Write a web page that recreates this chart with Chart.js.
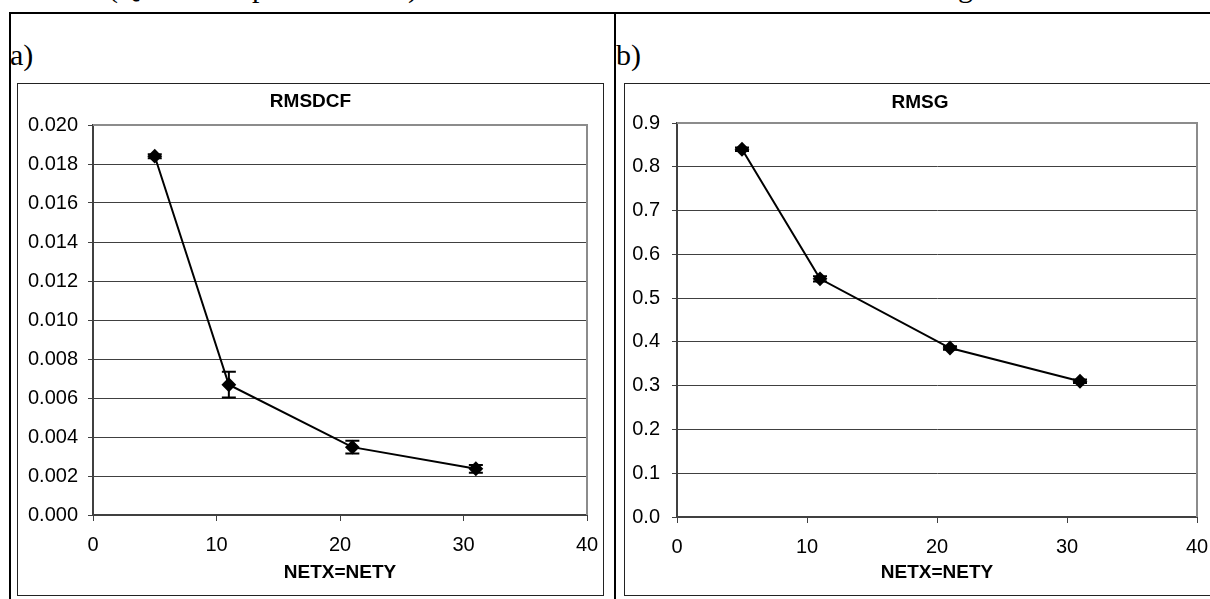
<!DOCTYPE html>
<html><head><meta charset="utf-8">
<script src="https://cdn.jsdelivr.net/npm/chart.js@4.4.0/dist/chart.umd.min.js"></script>
<style>
html,body{margin:0;padding:0;background:#fff;width:1210px;height:599px;overflow:hidden;position:relative;}
.line{position:absolute;background:#000;}
.frame{position:absolute;border:1px solid #222;box-sizing:border-box;z-index:2;pointer-events:none;}
.lbl{position:absolute;font-family:"Liberation Serif",serif;font-size:30px;line-height:30px;color:#000;}
.cut{position:absolute;left:0;top:0;width:1210px;height:12px;overflow:hidden;}
.cut span{position:absolute;top:-28px;font-family:"Liberation Serif",serif;font-size:30px;line-height:30px;color:#000;}
canvas{position:absolute;}
</style></head>
<body>
<div class="cut"><span style="left:108px">(Q</span><span style="left:252px">p</span><span style="left:408px">)</span><span style="left:958px">g</span></div>
<div class="line" style="left:9px;top:12px;width:1201px;height:2px"></div>
<div class="line" style="left:9px;top:12px;width:2px;height:600px"></div>
<div class="line" style="left:614px;top:12px;width:2px;height:600px"></div>
<div class="lbl" style="left:10px;top:40px">a)</div>
<div class="lbl" style="left:616px;top:40px">b)</div>
<div class="frame" style="left:17px;top:83px;width:587px;height:513px"></div>
<div class="frame" style="left:624px;top:83px;width:600px;height:513px"></div>
<canvas id="chartA" width="585" height="511" style="left:18px;top:84px"></canvas>
<canvas id="chartB" width="590" height="511" style="left:625px;top:84px"></canvas>
<script>
// ---- data ----
const xValues = [5, 11, 21, 31];
const rmsdcfValues = [0.0184, 0.00668, 0.00348, 0.00237];
const rmsdcfErrors = [0.0001, 0.00066, 0.00033, 0.0002];
const rmsgValues = [0.840, 0.544, 0.386, 0.310];
const rmsgErrors = [0.004, 0.006, 0.004, 0.004];
const xTicks = [0, 10, 20, 30, 40];
const yTickValuesA = [0, 0.002, 0.004, 0.006, 0.008, 0.010, 0.012, 0.014, 0.016, 0.018, 0.020];
const yTickLabelsA = ['0.000','0.002','0.004','0.006','0.008','0.010','0.012','0.014','0.016','0.018','0.020'];
const yTickValuesB = [0, 0.1, 0.2, 0.3, 0.4, 0.5, 0.6, 0.7, 0.8, 0.9];
const yTickLabelsB = ['0.0','0.1','0.2','0.3','0.4','0.5','0.6','0.7','0.8','0.9'];
const titleA = 'RMSDCF';
const titleB = 'RMSG';
const xAxisTitle = 'NETX=NETY';

const FONT = '"Liberation Sans", Arial, sans-serif';

const plotFrame = {
  id: 'plotFrame',
  beforeDatasetsDraw(chart) {
    const {ctx, chartArea: a} = chart;
    ctx.save();
    ctx.strokeStyle = '#8c8c8c';
    ctx.lineWidth = 2;
    ctx.beginPath();
    ctx.moveTo(a.left, a.top);
    ctx.lineTo(a.right, a.top);
    ctx.lineTo(a.right, a.bottom);
    ctx.stroke();
    ctx.restore();
  }
};

const errorBars = {
  id: 'errorBars',
  afterDatasetsDraw(chart) {
    const {ctx} = chart;
    const xs = chart.scales.x, ys = chart.scales.y;
    chart.data.datasets.forEach(ds => {
      if (!ds.errors) return;
      ctx.save();
      ctx.strokeStyle = '#000';
      ctx.lineWidth = 2;
      ds.data.forEach((p, i) => {
        const e = ds.errors[i];
        const px = xs.getPixelForValue(p.x);
        const top = ys.getPixelForValue(p.y + e);
        const bot = ys.getPixelForValue(p.y - e);
        ctx.beginPath();
        ctx.moveTo(px, top); ctx.lineTo(px, bot);
        ctx.moveTo(px - 7, top); ctx.lineTo(px + 7, top);
        ctx.moveTo(px - 7, bot); ctx.lineTo(px + 7, bot);
        ctx.stroke();
      });
      ctx.restore();
    });
  }
};

function makeChart(id, values, errors, yVals, yLabels, title, geo) {
  const data = xValues.map((x, i) => ({x: x, y: values[i]}));
  return new Chart(document.getElementById(id), {
    type: 'line',
    data: {
      datasets: [{
        data: data,
        errors: errors,
        yAxisID: 'y',
        borderColor: '#000',
        borderWidth: 2,
        backgroundColor: '#000',
        pointStyle: 'rectRot',
        pointRadius: 6,
        pointBackgroundColor: '#000',
        pointBorderColor: '#000',
        tension: 0,
        fill: false
      }]
    },
    options: {
      responsive: false,
      animation: false,
      events: [],
      layout: {padding: 0},
      plugins: {
        legend: {display: false},
        tooltip: {enabled: false},
        title: {
          display: true, text: title, color: '#000', fullSize: true,
          font: {family: FONT, size: 19, weight: 'bold', lineHeight: 1.2},
          padding: {top: geo.tPadTop, bottom: geo.tPadBot}
        }
      },
      scales: {
        x: {
          type: 'linear', min: 0, max: 40,
          afterBuildTicks: s => { s.ticks = xTicks.map(v => ({value: v})); },
          afterFit: s => { s.height = geo.xH; },
          ticks: {color: '#000', font: {family: FONT, size: 20, lineHeight: 2.25}, padding: 2, maxRotation: 0, autoSkip: false,
                  callback: (v, i) => String(xTicks[i])},
          grid: {drawOnChartArea: false, drawTicks: true, tickLength: 6, color: '#404040', tickColor: '#404040'},
          border: {color: '#404040', width: 2},
          title: {display: true, text: xAxisTitle, color: '#000',
                  font: {family: FONT, size: 19, weight: 'bold', lineHeight: 1.2},
                  padding: {top: 0, bottom: geo.xtPad}}
        },
        y: {
          type: 'linear', position: 'left', min: 0, max: yVals[yVals.length - 1],
          afterBuildTicks: s => { s.ticks = yVals.map(v => ({value: v})); },
          afterFit: s => { s.width = geo.yW; },
          ticks: {color: '#000', font: {family: FONT, size: 20}, padding: geo.yPad,
                  callback: (v, i) => yLabels[i]},
          grid: {color: '#404040', lineWidth: 1, drawTicks: true, tickLength: 5, tickColor: '#404040'},
          border: {color: '#404040', width: 2}
        },
        yRight: {
          type: 'linear', position: 'right', display: true, min: 0, max: 1,
          afterFit: s => { s.width = geo.rightW; },
          ticks: {display: false},
          grid: {display: false, drawTicks: false, drawOnChartArea: false},
          border: {display: false}
        }
      }
    },
    plugins: [plotFrame, errorBars]
  });
}

makeChart('chartA', rmsdcfValues, rmsdcfErrors, yTickValuesA, yTickLabelsA, titleA,
  {rightW: 16, yW: 75, xH: 80, yPad: 10, tPadTop: 6, tPadBot: 12.2, xtPad: 10.6});
makeChart('chartB', rmsgValues, rmsgErrors, yTickValuesB, yTickLabelsB, titleB,
  {rightW: 18, yW: 52, xH: 78, yPad: 12, tPadTop: 7, tPadBot: 9.2, xtPad: 11});
</script>
</body></html>
